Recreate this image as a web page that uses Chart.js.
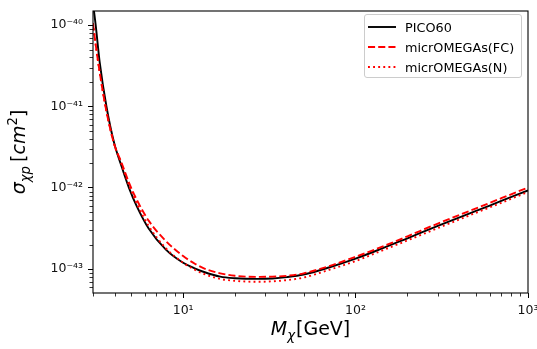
<!DOCTYPE html>
<html>
<head>
<meta charset="utf-8">
<script src="https://cdn.jsdelivr.net/npm/chart.js@4/dist/chart.umd.min.js"></script>
<style>
  html, body { margin: 0; padding: 0; background: #fff; }
  #wrap { position: relative; width: 537px; height: 349px; }
  #legend {
    position: absolute; left: 364px; top: 14px; width: 158px; height: 64px;
    box-sizing: border-box; border: 1px solid #cccccc; border-radius: 3px;
    background: rgba(255, 255, 255, 0.8);
    font-family: "DejaVu Sans", sans-serif; font-size: 12.8px; color: #000;
  }
  .row { position: absolute; left: 0; height: 20px; display: flex; align-items: center; white-space: nowrap; }
  .row svg { margin-left: 3px; }
  .row span { margin-left: 9px; }
</style>
</head>
<body>
<div id="wrap">
  <canvas id="chart" width="537" height="349"></canvas>
  <div id="legend"></div>
</div>
<script>
// dark matter mass, GeV
const massGeV = [3.0, 3.05, 3.11, 3.28, 3.59, 3.98, 4.37, 4.85, 5.37, 6.31, 7.94, 10, 11.75, 13.1, 16.4,
  20, 26.8, 33, 40, 50, 70, 100, 138, 200, 300, 500, 700, 1000];

// sigma_chi p limits, cm^2
const pico60 = [1.9e-40, 1.4e-40, 1.0e-40, 3.5e-41, 1.0e-41, 3.55e-42, 1.9e-42, 1.0e-42, 6.0e-43, 3.16e-43,
  1.74e-43, 1.2e-43, 1.02e-43, 9.3e-44, 8.1e-44, 7.75e-44, 7.6e-44, 7.7e-44, 8.0e-44, 8.6e-44, 1.05e-43,
  1.35e-43, 1.75e-43, 2.4e-43, 3.4e-43, 5.2e-43, 6.9e-43, 9.3e-43];
const microFC = [1.05e-40, 7.9e-41, 5.75e-41, 2.63e-41, 8.7e-42, 3.45e-42, 2.09e-42, 1.16e-42, 7.2e-43, 3.95e-43,
  2.22e-43, 1.45e-43, 1.16e-43, 1.03e-43, 8.9e-44, 8.3e-44, 8.05e-44, 8.1e-44, 8.3e-44, 8.9e-44, 1.09e-43,
  1.42e-43, 1.84e-43, 2.54e-43, 3.64e-43, 5.6e-43, 7.45e-43, 1.01e-42];
const microN = [1.05e-40, 7.9e-41, 5.75e-41, 2.63e-41, 8.7e-42, 3.45e-42, 2.0e-42, 1.08e-42, 6.5e-43, 3.4e-43,
  1.81e-43, 1.2e-43, 9.8e-44, 8.8e-44, 7.6e-44, 7.2e-44, 7.0e-44, 7.1e-44, 7.35e-44, 7.9e-44, 9.8e-44,
  1.26e-43, 1.65e-43, 2.26e-43, 3.2e-43, 4.94e-43, 6.55e-43, 8.9e-43];

const seriesNames = ["PICO60", "micrOMEGAs(FC)", "micrOMEGAs(N)"];

const xMajorValues = [10, 100, 1000];
const xMajorLabels = ["10\u00b9", "10\u00b2", "10\u00b3"];
const yMajorValues = [1e-43, 1e-42, 1e-41, 1e-40];
const yMajorLabels = ["10\u207b\u2074\u00b3", "10\u207b\u2074\u00b2", "10\u207b\u2074\u00b9", "10\u207b\u2074\u2070"];

const xRange = [3, 1000];
const yRange = [5.1e-44, 1.49e-40];

function logTicks(min, max) {
  const out = [];
  for (let e = Math.floor(Math.log10(min)); e <= Math.ceil(Math.log10(max)); e++) {
    for (let m = 1; m <= 9; m++) {
      const v = Number((m * Math.pow(10, e)).toPrecision(6));
      if (v >= min * 0.999 && v <= max * 1.001) out.push({ value: v, major: m === 1 });
    }
  }
  return out;
}

function isMajor(v) {
  const l = Math.log10(v);
  return Math.abs(l - Math.round(l)) < 1e-6;
}

function labelFor(v, values, labels) {
  const i = values.findIndex((m) => Math.abs(m / v - 1) < 1e-6);
  return i >= 0 ? labels[i] : "";
}

function points(ys) {
  return massGeV.map((m, i) => ({ x: m, y: ys[i] }));
}

const tickFont = { family: "DejaVu Sans", size: 12.5 };

function drawRuns(ctx, runs, cx, baseY) {
  let total = 0;
  runs.forEach((r) => {
    ctx.font = `${r.italic ? "italic " : ""}${r.size}px "DejaVu Sans"`;
    r.w = ctx.measureText(r.t).width;
    total += r.w + (r.gap || 0);
  });
  let x = cx - total / 2;
  runs.forEach((r) => {
    ctx.font = `${r.italic ? "italic " : ""}${r.size}px "DejaVu Sans"`;
    ctx.fillText(r.t, x, baseY + (r.dy || 0));
    x += r.w + (r.gap || 0);
  });
}

const frameAndTitles = {
  id: "frameAndTitles",
  afterDraw(chart) {
    const { ctx, chartArea: a, scales } = chart;
    ctx.save();
    ctx.strokeStyle = "#000";
    ctx.lineWidth = 0.8;
    scales.x.ticks.forEach((t) => {
      if (isMajor(t.value)) return;
      const px = Math.round(scales.x.getPixelForValue(t.value)) + 0.5;
      ctx.beginPath();
      ctx.moveTo(px, a.bottom);
      ctx.lineTo(px, a.bottom + 3.5);
      ctx.stroke();
    });
    scales.y.ticks.forEach((t) => {
      if (isMajor(t.value)) return;
      const py = Math.round(scales.y.getPixelForValue(t.value)) + 0.5;
      ctx.beginPath();
      ctx.moveTo(a.left, py);
      ctx.lineTo(a.left - 3.5, py);
      ctx.stroke();
    });
    ctx.lineWidth = 1.1;
    ctx.strokeRect(a.left, a.top, a.right - a.left, a.bottom - a.top);

    ctx.fillStyle = "#000";
    ctx.textBaseline = "alphabetic";
    drawRuns(ctx, [
      { t: "M", size: 19, italic: true },
      { t: "\u03c7", size: 13.3, italic: true, dy: 4.5, gap: 1 },
      { t: "[GeV]", size: 19 },
    ], (a.left + a.right) / 2, 335);

    ctx.translate(25, (a.top + a.bottom) / 2);
    ctx.rotate(-Math.PI / 2);
    drawRuns(ctx, [
      { t: "\u03c3", size: 19, italic: true },
      { t: "\u03c7p", size: 13.3, italic: true, dy: 4.5, gap: 4 },
      { t: "[", size: 19 },
      { t: "cm", size: 19, italic: true },
      { t: "2", size: 13.3, dy: -8 },
      { t: "]", size: 19 },
    ], 0, 0);
    ctx.restore();
  },
};

const chart = new Chart(document.getElementById("chart"), {
  type: "line",
  data: {
    datasets: [
      { label: seriesNames[0], data: points(pico60), borderColor: "#000", borderWidth: 1.9, order: 3 },
      { label: seriesNames[1], data: points(microFC), borderColor: "#ff0000", borderWidth: 1.9, borderDash: [7.1, 3.1], order: 2 },
      { label: seriesNames[2], data: points(microN), borderColor: "#ff0000", borderWidth: 1.9, borderDash: [1.9, 3.2], order: 1 },
    ],
  },
  options: {
    responsive: false,
    animation: false,
    devicePixelRatio: 1,
    layout: { padding: { top: 11, right: 9, left: 0, bottom: 0 } },
    elements: { point: { radius: 0 }, line: { cubicInterpolationMode: "monotone", borderCapStyle: "butt" } },
    plugins: { legend: { display: false }, tooltip: { enabled: false } },
    scales: {
      x: {
        type: "logarithmic",
        min: xRange[0],
        max: xRange[1],
        afterBuildTicks: (s) => { s.ticks = logTicks(xRange[0], xRange[1]); },
        afterFit: (s) => { s.height = 56; s.paddingLeft = 0; s.paddingRight = 0; },
        border: { display: false },
        grid: {
          drawOnChartArea: false, drawTicks: true, tickLength: 5,
          tickColor: (c) => (c.tick && isMajor(c.tick.value) ? "#000" : "rgba(0,0,0,0)"),
          tickWidth: 1,
        },
        ticks: {
          autoSkip: false, maxRotation: 0, padding: 5, color: "#111", font: tickFont,
          callback: (v) => labelFor(v, xMajorValues, xMajorLabels),
        },
      },
      y: {
        type: "logarithmic",
        min: yRange[0],
        max: yRange[1],
        afterBuildTicks: (s) => { s.ticks = logTicks(yRange[0], yRange[1]); },
        afterFit: (s) => { s.width = 93; s.paddingTop = 0; s.paddingBottom = 0; },
        border: { display: false },
        grid: {
          drawOnChartArea: false, drawTicks: true, tickLength: 5,
          tickColor: (c) => (c.tick && isMajor(c.tick.value) ? "#000" : "rgba(0,0,0,0)"),
          tickWidth: 1,
        },
        ticks: {
          autoSkip: false, padding: 5, color: "#111", font: tickFont,
          callback: (v) => labelFor(v, yMajorValues, yMajorLabels),
        },
      },
    },
  },
  plugins: [frameAndTitles],
});

// legend built from the datasets
const legendEl = document.getElementById("legend");
chart.data.datasets.forEach((ds, i) => {
  const row = document.createElement("div");
  row.className = "row";
  row.style.top = `${2 + i * 20}px`;
  const dash = ds.borderDash ? ds.borderDash.join(",") : "none";
  row.innerHTML = `<svg width="28" height="6"><line x1="0" y1="3" x2="28" y2="3" stroke="${ds.borderColor}" stroke-width="${ds.borderWidth}" stroke-dasharray="${dash}"/></svg><span>${ds.label}</span>`;
  legendEl.appendChild(row);
});
</script>
</body>
</html>
